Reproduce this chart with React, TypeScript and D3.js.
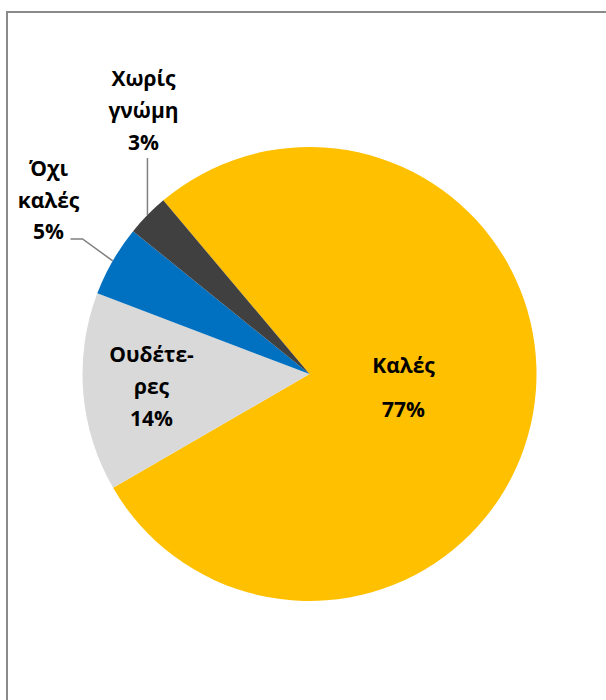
import React from 'react';
import * as d3 from 'd3';

// chart data
const categories = ['Καλές', 'Ουδέτερες', 'Όχι καλές', 'Χωρίς γνώμη'];
const values = [77, 14, 5, 3];
const percentLabels = ['77%', '14%', '5%', '3%'];
const labelLines = [['Καλές', '', '77%'], ['Ουδέτε-', 'ρες', '14%'], ['Όχι', 'καλές', '5%'], ['Χωρίς', 'γνώμη', '3%']];
const colors = ['#FFC000', '#D9D9D9', '#0070C0', '#404040'];

const width = 606;
const height = 700;
const cx = 309.5;
const cy = 374;
const radius = 227;
const startDeg = -40.1;

// label placement (text anchor centre, first baseline) relative to pie centre
const labelPos = [
  { x: 94, y: -1 },
  { x: -158, y: -12 },
  { x: -261, y: -198 },
  { x: -166, y: -288 },
];
const lineGap = [22, 32, 31.5, 32];

const App: React.FC = () => {
  const pie = d3.pie<number>()
    .sort(null)
    .startAngle((startDeg * Math.PI) / 180)
    .endAngle((startDeg * Math.PI) / 180 + 2 * Math.PI);
  const arcs = pie(values);
  const arc = d3.arc<d3.PieArcDatum<number>>().innerRadius(0).outerRadius(radius);
  const edge = d3.arc<d3.PieArcDatum<number>>().innerRadius(radius).outerRadius(radius);

  // leader lines for the two small outside labels
  const blueEdge = edge.centroid(arcs[2]);
  const darkEdge = edge.centroid(arcs[3]);
  const blueLeader = d3.line()([
    [blueEdge[0], blueEdge[1]],
    [-227, -135],
    [-239, -135],
  ]);
  const darkLeader = d3.line()([
    [darkEdge[0], darkEdge[1]],
    [darkEdge[0], -216],
  ]);

  return (
    <svg
      width={width}
      height={height}
      style={{ position: 'absolute', left: 0, top: 0, background: '#fff' }}
      fontFamily="'Open Sans', 'DejaVu Sans', sans-serif"
    >
      <rect x={7} y={12} width={640} height={740} fill="#fff" stroke="#8a8a8a" strokeWidth={2} />
      <g transform={`translate(${cx},${cy})`}>
        {arcs.map((a, i) => (
          <path key={categories[i]} d={arc(a) || ''} fill={colors[i]} />
        ))}
        <path d={blueLeader || ''} fill="none" stroke="#808080" strokeWidth={1.5} />
        <path d={darkLeader || ''} fill="none" stroke="#808080" strokeWidth={1.5} />
        {labelLines.map((lines, i) => (
          <text
            key={percentLabels[i]}
            x={labelPos[i].x}
            y={labelPos[i].y}
            textAnchor="middle"
            fontSize={21}
            fontWeight={700}
            fill="#000"
          >
            {lines.map((t, j) => (
              <tspan key={j} x={labelPos[i].x} y={labelPos[i].y + j * lineGap[i]}>
                {t}
              </tspan>
            ))}
          </text>
        ))}
      </g>
    </svg>
  );
};

export default App;
